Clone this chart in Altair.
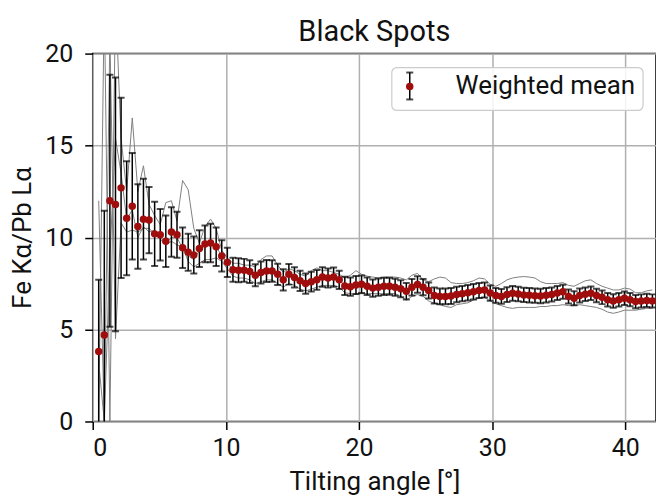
import altair as alt
import pandas as pd

# Tilting angles [deg]
angles = [0.45, 0.87, 1.29, 1.71, 2.13, 2.55, 2.97, 3.39, 3.81, 4.23,
          4.65, 5.07, 5.49, 5.91, 6.33, 6.75, 7.17, 7.59, 8.01, 8.43,
          8.85, 9.27, 9.69, 10.11, 10.53, 10.95, 11.37, 11.79, 12.21, 12.63,
          13.05, 13.47, 13.89, 14.31, 14.73, 15.15, 15.57, 15.99, 16.41, 16.83,
          17.25, 17.67, 18.09, 18.51, 18.93, 19.35, 19.77, 20.19, 20.61, 21.03,
          21.45, 21.87, 22.29, 22.71, 23.13, 23.55, 23.97, 24.39, 24.81, 25.23,
          25.65, 26.07, 26.49, 26.91, 27.33, 27.75, 28.17, 28.59, 29.01, 29.43,
          29.85, 30.27, 30.69, 31.11, 31.53, 31.95, 32.37, 32.79, 33.21, 33.63,
          34.05, 34.47, 34.89, 35.31, 35.73, 36.15, 36.57, 36.99, 37.41, 37.83,
          38.25, 38.67, 39.09, 39.51, 39.93, 40.35, 40.77, 41.19, 41.61, 42.03]

# Weighted mean of the Fe Ka / Pb La ratio and its uncertainty
weighted_mean = [3.8, 4.7, 12.0, 11.8, 12.7, 11.05, 11.7, 10.6, 11.0, 10.95,
                 10.2, 10.15, 9.8, 10.3, 10.15, 9.45, 9.2, 9.05, 9.4, 9.65,
                 9.7, 9.5, 9.0, 8.65, 8.25, 8.22, 8.22, 8.15, 7.95, 8.1,
                 8.18, 8.18, 8.0, 7.7, 8.0, 7.83, 7.65, 7.5, 7.6, 7.7,
                 7.85, 7.8, 7.85, 7.7, 7.37, 7.33, 7.42, 7.46, 7.35, 7.25,
                 7.3, 7.35, 7.35, 7.3, 7.22, 7.08, 7.3, 7.45, 7.3, 7.12,
                 6.85, 6.8, 6.8, 6.82, 6.9, 6.95, 7.0, 7.05, 7.12, 7.15,
                 6.98, 6.85, 6.8, 6.9, 6.97, 6.93, 6.88, 6.86, 6.84, 6.82,
                 6.86, 6.9, 6.98, 7.05, 6.8, 6.7, 6.85, 6.92, 6.97, 6.85,
                 6.75, 6.62, 6.55, 6.62, 6.7, 6.62, 6.52, 6.55, 6.58, 6.55]

mean_error = [3.9, 6.75, 6.85, 6.9, 4.9, 3.1, 2.9, 2.3, 2.2, 1.8,
              1.75, 1.4, 1.4, 1.35, 1.25, 1.1, 1.0, 1.0, 1.0, 1.0,
              1.05, 1.05, 0.85, 0.8, 0.65, 0.65, 0.62, 0.62, 0.6, 0.6,
              0.6, 0.58, 0.58, 0.58, 0.56, 0.55, 0.55, 0.55, 0.54, 0.54,
              0.53, 0.52, 0.52, 0.5, 0.5, 0.5, 0.49, 0.48, 0.48, 0.47,
              0.47, 0.47, 0.46, 0.46, 0.46, 0.45, 0.45, 0.45, 0.44, 0.44,
              0.44, 0.43, 0.43, 0.43, 0.42, 0.42, 0.42, 0.42, 0.41, 0.41,
              0.41, 0.4, 0.4, 0.4, 0.4, 0.4, 0.39, 0.39, 0.39, 0.39,
              0.39, 0.38, 0.38, 0.38, 0.38, 0.38, 0.38, 0.37, 0.37, 0.37,
              0.37, 0.37, 0.37, 0.37, 0.37, 0.36, 0.36, 0.36, 0.36, 0.36]

# Individual black-spot measurements
spot_a = [0.0, 23.0, 0.0, 23.0, 15.4, 12.5, 16.5, 12.5, 13.9, 11.8,
          11.2, 10.7, 11.9, 12.0, 10.9, 13.1, 12.6, 10.5, 9.7, 10.6,
          11.0, 10.5, 9.3, 8.9, 8.6, 8.6, 8.5, 8.5, 8.4, 8.8,
          9.0, 9.0, 8.5, 8.1, 8.3, 8.2, 8.0, 7.9, 8.2, 8.35,
          8.2, 8.2, 8.1, 8.0, 7.8, 7.95, 8.2, 8.0, 7.9, 7.85,
          7.8, 7.85, 7.85, 7.85, 7.8, 7.7, 7.95, 8.05, 7.7, 7.6,
          7.75, 7.85, 7.8, 7.55, 7.5, 7.5, 7.55, 7.65, 7.8, 7.75,
          7.45, 7.35, 7.5, 7.7, 7.8, 7.85, 7.88, 7.85, 7.8, 7.6,
          7.5, 7.5, 7.5, 7.55, 7.4, 7.35, 7.5, 7.65, 7.7, 7.5,
          7.35, 7.25, 7.15, 7.15, 7.25, 7.2, 7.0, 7.0, 7.1, 7.15]

spot_b = [3.2, 0.0, 21.0, 4.5, 10.8, 10.3, 10.4, 10.3, 10.5, 10.5,
          10.2, 9.9, 9.6, 9.8, 9.6, 9.5, 8.7, 8.4, 8.6, 8.8,
          8.8, 8.9, 8.7, 8.3, 7.9, 7.8, 7.8, 7.7, 7.5, 7.6,
          7.7, 7.7, 7.5, 7.3, 7.5, 7.4, 7.2, 7.1, 7.2, 7.3,
          7.4, 7.4, 7.4, 7.3, 7.0, 6.95, 6.9, 6.95, 6.95, 6.95,
          6.95, 6.95, 6.95, 6.95, 6.8, 6.6, 6.8, 6.9, 6.8, 6.55,
          6.43, 6.35, 6.25, 6.2, 6.35, 6.4, 6.45, 6.6, 6.7, 6.75,
          6.55, 6.4, 6.3, 6.2, 6.15, 6.2, 6.2, 6.2, 6.2, 6.25,
          6.25, 6.3, 6.3, 6.35, 6.3, 6.3, 6.35, 6.3, 6.25, 6.2,
          6.1, 5.95, 5.88, 5.95, 6.05, 6.05, 6.05, 6.1, 6.15, 6.15]

spot_c = [12.0, 0.0, 9.0, 15.4, 13.5, 11.0, 11.5, 10.0, 10.6, 10.3,
          10.4, 10.0, 9.7, 10.0, 10.0, 9.4, 9.0, 8.8, 9.3, 9.6,
          9.7, 9.5, 9.0, 8.6, 8.25, 8.2, 8.25, 8.1, 7.95, 8.1,
          8.2, 8.2, 8.0, 7.75, 8.0, 7.85, 7.65, 7.5, 7.6, 7.7,
          7.85, 7.8, 7.85, 7.7, 7.4, 7.35, 7.45, 7.45, 7.35, 7.25,
          7.3, 7.35, 7.35, 7.3, 7.2, 7.1, 7.3, 7.45, 7.3, 7.1,
          6.85, 6.8, 6.8, 6.85, 6.9, 6.95, 7.0, 7.05, 7.1, 7.15,
          7.0, 6.85, 6.8, 6.9, 6.95, 6.95, 6.9, 6.85, 6.85, 6.8,
          6.85, 6.9, 7.0, 7.05, 6.8, 6.7, 6.85, 6.9, 6.95, 6.85,
          6.75, 6.6, 6.55, 6.6, 6.7, 6.6, 6.5, 6.55, 6.6, 6.55]

FONT = "Roboto"
RED = "#a00d0d"

mean_df = pd.DataFrame({"angle": angles, "mean": weighted_mean, "err": mean_error})
mean_df["lo"] = mean_df["mean"] - mean_df["err"]
mean_df["hi"] = mean_df["mean"] + mean_df["err"]

spots_df = pd.concat([
    pd.DataFrame({"angle": angles, "ratio": vals, "spot": name})
    for name, vals in [("A", spot_a), ("B", spot_b), ("C", spot_c)]
])

x_scale = alt.Scale(domain=[0, 42.3], nice=False, zero=False)
y_scale = alt.Scale(domain=[0, 20], nice=False)

x_axis = alt.Axis(values=[0, 10, 20, 30, 40], title="Tilting angle [°]", format="d")
y_axis = alt.Axis(values=[0, 5, 10, 15, 20], title="Fe Kα/Pb Lα", format="d")

spots = alt.Chart(spots_df).mark_line(clip=True, color="#808080", strokeWidth=1).encode(
    x=alt.X("angle:Q", scale=x_scale, axis=x_axis),
    y=alt.Y("ratio:Q", scale=y_scale, axis=y_axis),
    detail="spot:N",
)

base = alt.Chart(mean_df).encode(x=alt.X("angle:Q", scale=x_scale))

bars = base.mark_rule(clip=True, color="black", strokeWidth=1.5).encode(
    y=alt.Y("lo:Q", scale=y_scale), y2="hi:Q"
)
caps_hi = base.mark_tick(clip=True, color="black", orient="horizontal", size=7, thickness=2).encode(
    y=alt.Y("hi:Q", scale=y_scale)
)
caps_lo = base.mark_tick(clip=True, color="black", orient="horizontal", size=7, thickness=2).encode(
    y=alt.Y("lo:Q", scale=y_scale)
)
points = base.mark_circle(clip=True, color=RED, opacity=1, size=56).encode(
    y=alt.Y("mean:Q", scale=y_scale)
)

# Legend box drawn in pixel space
one = alt.Data(values=[{}])
leg_box = alt.Chart(one).mark_rect(
    fill="white", fillOpacity=0.85, stroke="#cccccc", strokeWidth=1.2, cornerRadius=5
).encode(x=alt.value(300), x2=alt.value(552), y=alt.value(14), y2=alt.value(57))
leg_bar = alt.Chart(one).mark_rule(color="black", strokeWidth=1.5).encode(
    x=alt.value(318), y=alt.value(19), y2=alt.value(46)
)
leg_cap1 = alt.Chart(one).mark_tick(color="black", orient="horizontal", size=7, thickness=2).encode(
    x=alt.value(318), y=alt.value(19)
)
leg_cap2 = alt.Chart(one).mark_tick(color="black", orient="horizontal", size=7, thickness=2).encode(
    x=alt.value(318), y=alt.value(46)
)
leg_dot = alt.Chart(one).mark_circle(color=RED, opacity=1, size=56).encode(
    x=alt.value(318), y=alt.value(33)
)
leg_text = alt.Chart(one).mark_text(
    text="Weighted mean", font=FONT, fontSize=26, align="left", baseline="middle", color="#111111"
).encode(x=alt.value(364), y=alt.value(33))

chart = alt.layer(
    spots, bars, caps_hi, caps_lo, points,
    leg_box, leg_bar, leg_cap1, leg_cap2, leg_dot, leg_text,
).properties(
    width=565,
    height=369,
    title=alt.TitleParams("Black Spots", font=FONT, fontSize=29, fontWeight="normal",
                          color="#111111", anchor="middle", offset=-5),
    autosize=alt.AutoSizeParams(type="none"),
    padding={"left": 93, "top": 53, "right": 0, "bottom": 78},
).configure_view(
    stroke="black", strokeWidth=1.5
).configure_axis(
    grid=True, gridColor="#b0b0b0", gridWidth=1.5,
    domain=False,
    tickColor="black", tickWidth=1.5, tickSize=8,
    labelFont=FONT, labelFontSize=25, labelColor="#111111",
    titleFont=FONT, titleFontSize=26, titleFontWeight="normal", titleColor="#111111",
).configure_axisX(
    labelPadding=6, titlePadding=8
).configure_axisY(
    labelPadding=12, titlePadding=9
)

chart.save("out.html", embed_options={"renderer": "svg", "actions": False})
